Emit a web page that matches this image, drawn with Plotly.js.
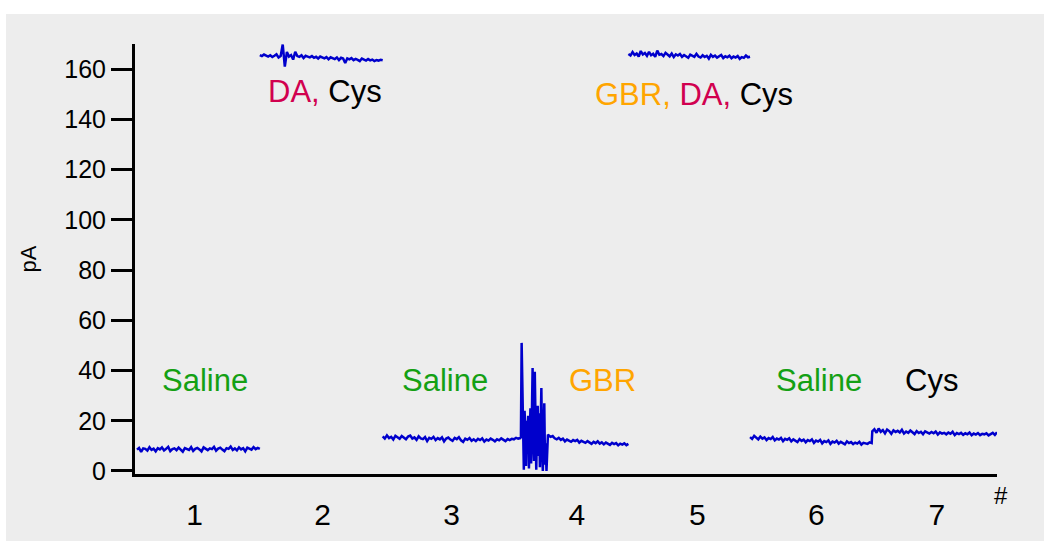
<!DOCTYPE html>
<html>
<head>
<meta charset="utf-8">
<script src="https://cdn.plot.ly/plotly-3.0.1.min.js"></script>
<style>html,body{margin:0;padding:0;background:#fff;}#chart{width:1044px;height:541px;}</style>
</head>
<body>
<div id="chart"></div>
<script>
// ---- data (pA readings) ----
const categoryLabels = ["1","2","3","4","5","6","7"];
const categoryPositions = [0.47, 1.51, 2.56, 3.58, 4.56, 5.53, 6.51];
const yTicks = [0, 20, 40, 60, 80, 100, 120, 140, 160];

// segment time spans (in # units)
const seg1Span = [0.0, 1.0];
const seg2Span = [1.0, 2.0];
const seg3Span = [2.0, 3.12];
const spikeSpan = [3.125, 3.345];
const seg4Span = [3.35, 4.0];
const seg5Span = [4.0, 4.99];
const seg6Span = [4.99, 5.98];
const seg7Span = [5.985, 7.0];

const seg1 = [8.5,9.2,7.6,9.0,8.8,8.1,9.5,8.4,8.9,7.8,9.1,8.6,9.4,8.2,8.8,9.6,7.9,8.7,9.0,8.3,9.3,8.5,7.7,9.1,8.9,8.4,9.5,8.0,8.8,9.2,8.6,7.8,9.4,8.9,8.3,9.0,8.7,9.6,8.1,8.9,9.3,8.5,7.9,9.1,8.8,9.7,8.4,9.0,8.2,9.4,8.6,9.1,7.8,9.3,8.9,8.5,9.5,8.7,9.2,8.8];
const seg2 = [165.6,165.2,165.8,165.4,165.0,165.5,164.8,165.3,165.9,164.6,165.2,169.8,161.0,166.8,165.0,165.6,163.8,166.9,165.2,164.9,165.5,164.4,165.3,165.0,164.7,165.2,164.5,164.9,164.2,165.0,164.6,164.3,164.8,163.9,164.7,164.4,164.0,164.6,163.6,164.5,164.2,162.4,164.3,163.9,164.4,163.6,164.1,163.7,163.2,164.2,163.8,163.4,164.0,163.5,163.8,163.2,163.6,163.4,163.7,163.5];
const seg3 = [13.8,12.9,14.2,13.1,13.6,12.5,14.0,13.3,12.8,13.9,13.2,12.6,13.7,14.1,12.9,13.4,12.4,13.8,13.0,12.7,13.5,11.9,13.2,12.8,13.6,12.3,13.1,12.6,13.4,11.8,12.9,13.3,12.5,12.0,13.2,12.7,13.5,12.2,11.6,12.9,12.4,13.1,12.0,12.6,11.9,12.8,12.3,13.0,11.7,12.5,12.1,12.9,12.4,11.8,12.6,12.2,13.0,12.5,11.9,12.7,12.3,12.8,12.6,13.2,12.9,13.1];
const spike = [13.5,51.0,30.0,5.0,0.5,24.0,18.0,2.0,20.0,8.0,22.0,1.0,17.0,25.0,3.0,19.0,41.0,12.0,4.0,39.5,21.0,0.5,16.0,26.0,6.0,23.0,1.5,18.0,33.0,9.0,0.0,14.0,27.0,2.5,11.0,0.0,6.0,14.5];
const seg4 = [14.2,13.6,13.9,13.0,12.6,13.2,12.4,12.9,11.8,12.5,12.1,11.6,12.3,11.9,12.4,11.3,12.0,11.7,11.2,11.9,11.5,10.8,11.6,11.1,11.8,10.9,11.4,10.6,11.3,11.0,10.4,11.2,10.7,11.1,10.2,10.9,10.5,11.0,10.3,10.8];
const seg5 = [166.0,165.4,166.8,165.6,166.2,165.0,167.2,165.8,166.4,165.3,166.9,165.5,166.1,164.9,167.4,165.7,166.0,165.2,166.5,165.6,165.1,166.2,164.8,165.9,165.4,166.0,164.9,165.6,165.2,164.5,165.8,165.3,164.9,166.1,165.0,164.6,165.5,164.8,165.3,164.2,165.7,164.9,165.4,164.6,165.0,165.6,164.4,165.1,164.7,165.3,164.3,165.0,164.6,165.2,164.1,164.8,164.5,165.4,164.7,164.9];
const seg6 = [13.5,12.8,14.0,13.2,12.6,13.7,12.9,13.4,12.3,13.1,12.7,13.5,12.2,12.9,12.5,13.2,11.9,12.8,12.4,13.0,11.8,12.6,12.2,11.5,12.7,12.0,12.5,11.4,12.3,11.9,12.6,11.2,12.1,11.7,12.4,11.0,11.9,11.5,12.2,10.8,11.7,11.3,12.0,10.9,11.6,11.2,10.6,11.8,11.1,11.5,10.7,11.3,10.9,11.6,10.5,11.2,11.0,10.8,11.4,11.1];
const seg7 = [15.8,16.6,15.2,16.9,15.6,16.3,15.0,16.5,15.9,14.8,16.2,15.5,16.0,15.3,16.4,14.9,15.7,15.2,16.1,15.4,14.7,15.9,15.1,15.6,14.6,15.8,15.3,14.9,15.5,15.0,15.7,14.5,15.4,14.9,15.2,14.6,15.3,14.8,15.6,14.3,15.1,14.7,15.2,14.4,15.0,14.6,15.3,14.2,14.9,14.5,15.1,14.3,14.8,14.6,15.0,14.2,14.7,15.2,14.4,15.4];

// annotation labels
const labelTexts = ["Saline","Saline","GBR","Saline","Cys"];
const labelColors = ["#14a014","#14a014","#ffa500","#14a014","#000000"];
const labelX = [0.55, 2.51, 3.79, 5.55, 6.47];
const labelY = [36, 36, 36, 36, 36];

// ---- helpers ----
function grid(span, n){ const a=[]; for(let i=0;i<n;i++) a.push(span[0]+(span[1]-span[0])*i/(n-1)); return a; }

const lineStyle = {color:'#0000cc', width:2.5};
function tr(xs, ys){ return {x:xs, y:ys, type:'scatter', mode:'lines', line:lineStyle, hoverinfo:'skip', showlegend:false}; }

const traces = [
  tr(grid(seg1Span, seg1.length), seg1),
  tr(grid(seg2Span, seg2.length), seg2),
  tr(grid(seg3Span, seg3.length).concat(grid(spikeSpan, spike.length), grid(seg4Span, seg4.length)), seg3.concat(spike, seg4)),
  tr(grid(seg5Span, seg5.length), seg5),
  tr(grid(seg6Span, seg6.length).concat(grid(seg7Span, seg7.length)), seg6.concat(seg7))
];

const FONT = 'Liberation Sans, Arial, Helvetica, sans-serif';
const annotations = labelTexts.map((t,i)=>({x:labelX[i], y:labelY[i], xref:'x', yref:'y', text:t, showarrow:false, font:{family:FONT, size:31, color:labelColors[i]}}));
annotations.push({x:1.53, y:151, xref:'x', yref:'y', showarrow:false, text:'<span style="color:#d1004f">DA,</span> <span style="color:#000">Cys</span>', font:{family:FONT, size:31}});
annotations.push({x:4.53, y:150, xref:'x', yref:'y', showarrow:false, text:'<span style="color:#ffa500">GBR,</span> <span style="color:#d1004f">DA,</span> <span style="color:#000">Cys</span>', font:{family:FONT, size:31}});
annotations.push({x:1.0046, y:-0.051, xref:'paper', yref:'paper', xanchor:'center', yanchor:'middle', showarrow:false, text:'#', font:{family:FONT, size:24, color:'#000'}});

const layout = {
  width:1044, height:541,
  margin:{l:135, r:47, t:44, b:67, pad:0},
  paper_bgcolor:'#ffffff', plot_bgcolor:'rgba(0,0,0,0)',
  font:{family:FONT, color:'#000'},
  showlegend:false,
  shapes:[{type:'rect', xref:'paper', yref:'paper', x0:-0.1497, x1:1.06, y0:-0.16, y1:1.0698, fillcolor:'#ededed', line:{width:0}, layer:'below'}],
  xaxis:{range:[-0.016, 7.0], showline:true, linecolor:'#000', linewidth:3, zeroline:false, showgrid:false,
    tickmode:'array', tickvals:categoryPositions, ticktext:categoryLabels, ticks:'outside', ticklen:12, tickcolor:'rgba(0,0,0,0)',
    tickfont:{family:FONT, size:30, color:'#000'}, fixedrange:true},
  yaxis:{range:[-1.2, 170], showline:true, linecolor:'#000', linewidth:3, zeroline:false, showgrid:false,
    tickmode:'array', tickvals:yTicks, ticks:'outside', ticklen:21, tickwidth:3, tickcolor:'#000',
    tickfont:{family:FONT, size:25, color:'#000'},
    title:{text:'pA', font:{family:FONT, size:22, color:'#000'}, standoff:22}, automargin:false, fixedrange:true},
  annotations:annotations
};

Plotly.newPlot('chart', traces, layout, {displayModeBar:false, staticPlot:true});
</script>
</body>
</html>
